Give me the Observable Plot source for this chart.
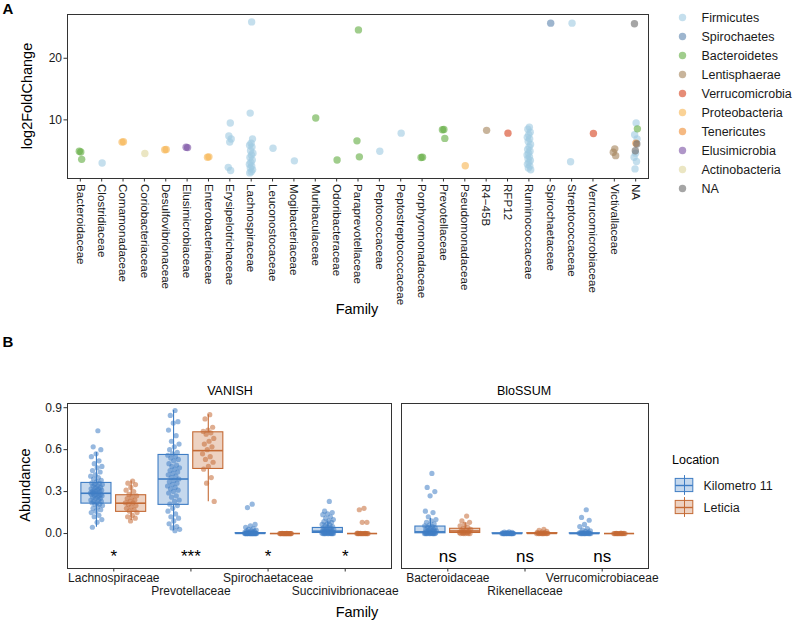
<!DOCTYPE html>
<html><head><meta charset="utf-8">
<script src="https://cdn.jsdelivr.net/npm/d3@7"></script>
<script src="https://cdn.jsdelivr.net/npm/@observablehq/plot@0.6"></script>
<style>
body{margin:0;background:#fff;font-family:"Liberation Sans",Arial,Helvetica,sans-serif;}
#root{position:relative;width:793px;height:621px;overflow:hidden;background:#fff;}
.pl{position:absolute;}
.lb{position:absolute;white-space:nowrap;color:#000;line-height:1;}
</style></head><body><div id="root"></div>
<script>
// ---------- Panel A data ----------
const families = ["Bacteroidaceae","Clostridiaceae","Comamonadaceae","Coriobacteriaceae","Desulfovibrionaceae","Elusimicrobiaceae","Enterobacteriaceae","Erysipelotrichaceae","Lachnospiraceae","Leuconostocaceae","Mogibacteriaceae","Muribaculaceae","Odoribacteraceae","Paraprevotellaceae","Peptococcaceae","Peptostreptococcaceae","Porphyromonadaceae","Prevotellaceae","Pseudomonadaceae","R4\u221245B","RFP12","Ruminococcaceae","Spirochaetaceae","Streptococcaceae","Verrucomicrobiaceae","Victivallaceae","NA"];
const phyla = ["Firmicutes","Spirochaetes","Bacteroidetes","Lentisphaerae","Verrucomicrobia","Proteobacteria","Tenericutes","Elusimicrobia","Actinobacteria","NA"];
const phylumColors = ["#9ecae1","#5b84ad","#61ab40","#a38258","#d5401a","#f7b450","#ee8a2f","#7a50a3","#ded59b","#696969"];
// [family, phylum, log2FoldChange values]
const lfcGroups = [
  ["Bacteroidaceae","Bacteroidetes",[4.8,4.9,3.6]],
  ["Clostridiaceae","Firmicutes",[3.0]],
  ["Comamonadaceae","Proteobacteria",[6.45,6.4]],
  ["Coriobacteriaceae","Actinobacteria",[4.55]],
  ["Desulfovibrionaceae","Proteobacteria",[5.2,5.15]],
  ["Elusimicrobiaceae","Elusimicrobia",[5.5,5.55]],
  ["Enterobacteriaceae","Proteobacteria",[4.0,3.95]],
  ["Erysipelotrichaceae","Firmicutes",[9.5,7.4,6.9,6.4,2.3,1.8]],
  ["Lachnospiraceae","Firmicutes",[25.9,11.1,6.9,6.2,5.9,5.6,5.0,4.6,4.3,3.9,3.5,3.1,2.8,2.5,2.2,1.9,1.6,1.4]],
  ["Leuconostocaceae","Firmicutes",[5.4]],
  ["Mogibacteriaceae","Firmicutes",[3.35]],
  ["Muribaculaceae","Bacteroidetes",[10.3]],
  ["Odoribacteraceae","Bacteroidetes",[3.5]],
  ["Paraprevotellaceae","Bacteroidetes",[24.6,6.6,4.0]],
  ["Peptococcaceae","Firmicutes",[4.9]],
  ["Peptostreptococcaceae","Firmicutes",[7.85]],
  ["Porphyromonadaceae","Bacteroidetes",[3.95,3.9]],
  ["Prevotellaceae","Bacteroidetes",[8.45,8.4,7.0]],
  ["Pseudomonadaceae","Proteobacteria",[2.55]],
  ["R4\u221245B","Lentisphaerae",[8.3]],
  ["RFP12","Verrucomicrobia",[7.85]],
  ["Ruminococcaceae","Firmicutes",[8.8,8.5,8.0,7.6,7.2,6.9,6.5,6.0,5.6,5.2,4.9,4.6,4.3,4.0,3.7,3.4,3.1,2.8,2.5,2.2,1.9]],
  ["Spirochaetaceae","Spirochaetes",[25.7]],
  ["Streptococcaceae","Firmicutes",[25.7,3.2]],
  ["Verrucomicrobiaceae","Verrucomicrobia",[7.8]],
  ["Victivallaceae","Lentisphaerae",[5.3,4.75,4.2]],
  ["NA","Firmicutes",[9.5,7.6,6.9,4.6,3.95,3.25,2.05]],
  ["NA","Bacteroidetes",[8.55]],
  ["NA","Tenericutes",[6.2]],
  ["NA","NA",[25.6,6.1,5.0]]
];
const lfcTicks = [10, 20];

// ---------- Panel B data ----------
const facetVanish = ["Lachnospiraceae","Prevotellaceae","Spirochaetaceae","Succinivibrionaceae"];
const facetBlossum = ["Bacteroidaceae","Rikenellaceae","Verrucomicrobiaceae"];
const locations = ["Kilometro 11","Leticia"];
const locationColors = ["#3f7dc4","#c46a35"];
const abundanceTicks = [0, 0.3, 0.6, 0.9];

const lachnoK11 = [0.735,0.62,0.60,0.57,0.55,0.52,0.50,0.48,0.47,0.45,0.44,0.42,0.41,0.40,0.39,0.38,0.37,0.36,0.36,0.35,0.35,0.34,0.34,0.33,0.33,0.32,0.32,0.31,0.31,0.31,0.30,0.30,0.30,0.29,0.29,0.29,0.28,0.28,0.28,0.27,0.27,0.27,0.26,0.26,0.25,0.25,0.24,0.24,0.23,0.23,0.22,0.22,0.21,0.21,0.20,0.19,0.18,0.17,0.16,0.15,0.13,0.12,0.10,0.08,0.045];
const lachnoLet = [0.375,0.36,0.35,0.33,0.31,0.30,0.28,0.27,0.26,0.25,0.24,0.23,0.22,0.22,0.21,0.20,0.19,0.18,0.17,0.16,0.15,0.13,0.12,0.11,0.09];
const prevoK11 = [0.88,0.845,0.80,0.79,0.74,0.70,0.66,0.64,0.62,0.60,0.58,0.57,0.56,0.55,0.54,0.53,0.52,0.50,0.49,0.48,0.47,0.46,0.45,0.44,0.43,0.42,0.41,0.40,0.39,0.38,0.37,0.36,0.35,0.34,0.33,0.32,0.31,0.30,0.29,0.27,0.26,0.24,0.23,0.21,0.20,0.18,0.16,0.14,0.12,0.11,0.09,0.07,0.05,0.04,0.03,0.02];
const prevoLet = [0.85,0.82,0.76,0.74,0.73,0.72,0.71,0.68,0.66,0.64,0.62,0.60,0.57,0.55,0.53,0.51,0.48,0.46,0.40,0.36,0.23];
const spiroK11 = [0.21,0.185,0.065,0.055,0.045,0.035,0.03,0.025,0.02,0.02,0.015,0.01,0.01,0.008,0.006,0.005,0.004,0.003,0.002,0.001,0,0,0,0,0,0,0,0,0,0,0,0,0,0,0,0,0,0,0,0];
const spiroLet = [0.002,0.001,0,0,0,0,0,0,0,0,0,0,0,0,0,0,0,0,0,0,0,0];
const succK11 = [0.23,0.16,0.15,0.14,0.135,0.12,0.11,0.10,0.09,0.085,0.08,0.07,0.065,0.06,0.055,0.05,0.045,0.04,0.04,0.035,0.03,0.03,0.025,0.02,0.02,0.02,0.015,0.015,0.01,0.01,0.01,0.005,0.005,0.003,0.002,0,0,0,0,0,0,0,0,0,0];
const succLet = [0.18,0.17,0.08,0.08,0.003,0.002,0.001,0,0,0,0,0,0,0,0,0,0,0,0,0];
const bactK11 = [0.43,0.33,0.30,0.27,0.16,0.15,0.12,0.10,0.09,0.08,0.07,0.06,0.055,0.05,0.045,0.04,0.035,0.03,0.03,0.025,0.02,0.02,0.015,0.015,0.01,0.01,0.008,0.006,0.004,0.002,0,0,0,0,0,0,0,0,0,0];
const bactLet = [0.125,0.09,0.08,0.065,0.055,0.045,0.035,0.03,0.025,0.02,0.015,0.01,0.008,0.005,0.003,0,0,0,0,0];
const rikK11 = [0.012,0.01,0.008,0.006,0.005,0.004,0.003,0.002,0.001,0,0,0,0,0,0,0,0,0,0,0,0,0,0,0];
const rikLet = [0.03,0.022,0.015,0.01,0.008,0.005,0.003,0.002,0,0,0,0,0,0,0,0,0];
const verrK11 = [0.17,0.115,0.095,0.065,0.05,0.035,0.025,0.02,0.015,0.01,0.008,0.005,0.003,0.001,0,0,0,0,0,0,0,0,0,0,0];
const verrLet = [0.003,0.002,0.001,0,0,0,0,0,0,0,0,0,0,0,0];

const boxFamily = ["Lachnospiraceae","Lachnospiraceae","Prevotellaceae","Prevotellaceae","Spirochaetaceae","Spirochaetaceae","Succinivibrionaceae","Succinivibrionaceae","Bacteroidaceae","Bacteroidaceae","Rikenellaceae","Rikenellaceae","Verrucomicrobiaceae","Verrucomicrobiaceae"];
const boxLocation = ["Kilometro 11","Leticia","Kilometro 11","Leticia","Kilometro 11","Leticia","Kilometro 11","Leticia","Kilometro 11","Leticia","Kilometro 11","Leticia","Kilometro 11","Leticia"];
const boxLow    = [0.045,0.093,0.02, 0.228,0,    0,0,    0,0,    0,    0,    0,    0,    0];
const boxQ1     = [0.214,0.155,0.205,0.462,0,    0,0.004,0,0.002,0.004,0,    0,    0,    0];
const boxMedian = [0.288,0.217,0.39, 0.593,0.001,0,0.017,0,0.012,0.018,0,    0.001,0,    0];
const boxQ3     = [0.362,0.274,0.562,0.724,0.003,0,0.04, 0,0.05, 0.034,0.002,0.003,0.002,0];
const boxHigh   = [0.58, 0.375,0.88, 0.85, 0.007,0,0.09, 0,0.11, 0.075,0.005,0.008,0.005,0];
const sigFamily = ["Lachnospiraceae","Prevotellaceae","Spirochaetaceae","Succinivibrionaceae","Bacteroidaceae","Rikenellaceae","Verrucomicrobiaceae"];
const sigLabel = ["*","***","*","*","ns","ns","ns"];
const sigY = -0.165;

// ---------- build ----------
const root = document.getElementById("root");
const FONT = '"Liberation Sans", Arial, Helvetica, sans-serif';
const baseStyle = {background: "none", fontFamily: FONT, fontSize: "12px", color: "#1a1a1a", overflow: "visible"};
const jit = (k, amp) => ((((k + 1) * 0.6180339887) % 1) - 0.5) * 2 * amp;

function place(el, left, top) {
  el.classList.add("pl"); el.style.left = left + "px"; el.style.top = top + "px";
  root.appendChild(el);
}
function label(text, cx, cy, size, opts = {}) {
  const d = document.createElement("div");
  d.className = "lb"; d.textContent = text;
  d.style.left = cx + "px"; d.style.top = cy + "px";
  d.style.fontSize = size + "px";
  if (opts.bold) d.style.fontWeight = "bold";
  d.style.transform = opts.left ? "translate(0,-50%)" : "translate(-50%,-50%)" + (opts.rotate ? " rotate(-90deg)" : "");
  root.appendChild(d);
}

// Panel A points
const ptsA = [];
const seen = {};
lfcGroups.forEach(([fam, ph, vals]) => vals.forEach(v => {
  const k = seen[fam] = (seen[fam] ?? -1) + 1;
  ptsA.push({fam, ph, v, xi: families.indexOf(fam) + jit(k, 0.09)});
}));

const plotA = Plot.plot({
  width: 670, height: 320,
  marginLeft: 67, marginRight: 22, marginTop: 14, marginBottom: 142,
  style: {...baseStyle, fontSize: "11.6px"},
  x: {domain: [-0.6, families.length - 0.4]},
  y: {domain: [0.49, 27.1]},
  color: {domain: phyla, range: phylumColors},
  marks: [
    Plot.dot(ptsA, {x: "xi", y: "v", r: 3.7, fill: "ph", fillOpacity: 0.6}),
    Plot.frame({stroke: "#333", strokeWidth: 1}),
    Plot.axisY({ticks: lfcTicks, tickSize: 3.5, tickPadding: 2, label: null, stroke: "#333", fill: "#1a1a1a", fontSize: 12}),
    Plot.axisX({ticks: d3.range(families.length), tickFormat: i => families[i], tickRotate: 90, tickSize: 3.5, tickPadding: 2, label: null, stroke: "#333", fill: "#1a1a1a"})
  ]
});
place(plotA, 0, 0);

const legA = Plot.plot({
  width: 121, height: 215, margin: 0,
  style: baseStyle,
  x: {domain: [0, 1], range: [10, 30], axis: null},
  y: {type: "point", domain: phyla, range: [4, 201], axis: null},
  color: {domain: phyla, range: phylumColors},
  marks: [
    Plot.dot(phyla, {x: 0, y: d => d, fill: d => d, r: 3.7, fillOpacity: 0.6}),
    Plot.text(phyla, {x: 0, y: d => d, text: d => d, dx: 19, textAnchor: "start", fontSize: 12.5, fill: "#1a1a1a"})
  ]
});
place(legA, 672, 0);

// Panel B
const boxes = boxFamily.map((f, i) => ({fam: f, loc: boxLocation[i], lo: boxLow[i], q1: boxQ1[i], med: boxMedian[i], q3: boxQ3[i], hi: boxHigh[i]}));
const pointSets = [
  ["Lachnospiraceae","Kilometro 11",lachnoK11],["Lachnospiraceae","Leticia",lachnoLet],
  ["Prevotellaceae","Kilometro 11",prevoK11],["Prevotellaceae","Leticia",prevoLet],
  ["Spirochaetaceae","Kilometro 11",spiroK11],["Spirochaetaceae","Leticia",spiroLet],
  ["Succinivibrionaceae","Kilometro 11",succK11],["Succinivibrionaceae","Leticia",succLet],
  ["Bacteroidaceae","Kilometro 11",bactK11],["Bacteroidaceae","Leticia",bactLet],
  ["Rikenellaceae","Kilometro 11",rikK11],["Rikenellaceae","Leticia",rikLet],
  ["Verrucomicrobiaceae","Kilometro 11",verrK11],["Verrucomicrobiaceae","Leticia",verrLet]
];
const ptsB = [];
pointSets.forEach(([fam, loc, vals]) => vals.forEach((v, k) => ptsB.push({fam, loc, v, k})));
const DODGE = 0.225, HALF = 0.195;
const offset = loc => loc === locations[0] ? -DODGE : DODGE;

function panelB(cats, width, mL, mR, showY) {
  const idx = f => cats.indexOf(f);
  const bx = boxes.filter(b => cats.includes(b.fam));
  const px = ptsB.filter(p => cats.includes(p.fam));
  const sg = sigFamily.map((f, i) => ({f, t: sigLabel[i]})).filter(d => cats.includes(d.f));
  const ticks = cats.map((c, i) => ({c, i}));
  return Plot.plot({
    width, height: 210, marginLeft: mL, marginRight: mR, marginTop: 8, marginBottom: 37,
    style: baseStyle,
    x: {domain: [-0.6, cats.length - 0.4]},
    y: showY ? {domain: [-0.25, 0.93]} : {domain: [-0.25, 0.93], axis: null},
    color: {domain: locations, range: locationColors},
    marks: [
      Plot.ruleX(bx, {x: d => idx(d.fam) + offset(d.loc), y1: "lo", y2: "q1", stroke: "loc", strokeWidth: 1.1}),
      Plot.ruleX(bx, {x: d => idx(d.fam) + offset(d.loc), y1: "q3", y2: "hi", stroke: "loc", strokeWidth: 1.1}),
      Plot.rect(bx, {x1: d => idx(d.fam) + offset(d.loc) - HALF, x2: d => idx(d.fam) + offset(d.loc) + HALF, y1: "q1", y2: "q3", fill: "loc", fillOpacity: 0.3, stroke: "loc", strokeWidth: 1.1}),
      Plot.ruleY(bx, {y: "med", x1: d => idx(d.fam) + offset(d.loc) - HALF, x2: d => idx(d.fam) + offset(d.loc) + HALF, stroke: "loc", strokeWidth: 1.6}),
      Plot.dot(px, {x: d => idx(d.fam) + offset(d.loc) + jit(d.k, 0.08), y: "v", r: 2.6, fill: "loc", fillOpacity: 0.55}),
      Plot.text(sg, {x: d => idx(d.f), y: sigY, text: "t", fontSize: 17, fill: "#000"}),
      Plot.frame({stroke: "#333", strokeWidth: 1}),
      ...(showY ? [Plot.axisY({ticks: abundanceTicks, tickFormat: d3.format(".1f"), tickSize: 3.5, tickPadding: 2, label: null, stroke: "#333", fill: "#1a1a1a"})] : []),
      Plot.axisX({ticks: d3.range(cats.length), tickFormat: () => "", tickSize: 3.5, label: null, stroke: "#333"}),
      Plot.text(ticks.filter(d => d.i % 2 === 0), {x: "i", text: "c", frameAnchor: "bottom", dy: 13, fontSize: 12, fill: "#1a1a1a"}),
      Plot.text(ticks.filter(d => d.i % 2 === 1), {x: "i", text: "c", frameAnchor: "bottom", dy: 26, fontSize: 12, fill: "#1a1a1a"})
    ]
  });
}
place(panelB(facetVanish, 395, 67, 4, true), 0, 395);
place(panelB(facetBlossum, 260, 6, 7, false), 395, 395);

const legB = Plot.plot({
  width: 120, height: 44, margin: 0,
  style: baseStyle,
  x: {domain: [0, 1], range: [3, 25], axis: null},
  y: {domain: [0, 2], range: [0, 44], axis: null},
  color: {domain: locations, range: locationColors},
  marks: [
    Plot.ruleX(locations, {x: 0.5, y1: (d, i) => i + 0.05, y2: (d, i) => i + 0.95, stroke: d => d}),
    Plot.rect(locations, {x1: 0.1, x2: 0.9, y1: (d, i) => i + 0.2, y2: (d, i) => i + 0.8, fill: d => d, fillOpacity: 0.3, stroke: d => d}),
    Plot.ruleY(locations, {y: (d, i) => i + 0.5, x1: 0.1, x2: 0.9, stroke: d => d, strokeWidth: 1.4}),
    Plot.text(locations, {x: 1, y: (d, i) => i + 0.5, text: d => d, dx: 8, textAnchor: "start", fontSize: 12.5, fill: "#1a1a1a"})
  ]
});
place(legB, 670, 474);

// Titles and labels
label("A", 8, 8, 15, {bold: true});
label("B", 8, 341, 15, {bold: true});
label("log2FoldChange", 27, 96, 14.5, {rotate: true});
label("Family", 357, 309, 14.5);
label("VANISH", 230, 391, 12.5);
label("BloSSUM", 524, 391, 12.5);
label("Abundance", 25, 485, 14.5, {rotate: true});
label("Family", 357, 612, 14.5);
label("Location", 672, 460, 12.5, {left: true});
</script></body></html>
